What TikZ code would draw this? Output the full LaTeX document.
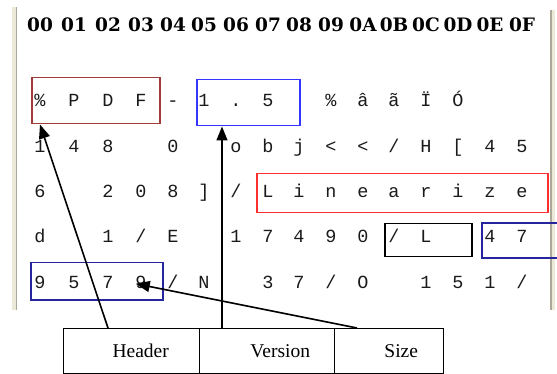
\documentclass[tikz,border=0pt]{standalone}
\usepackage{fontspec}
\setmainfont{Liberation Serif}
\newfontfamily\hexfont{Liberation Mono}
\newfontfamily\headfont{DejaVu Serif}
\usetikzlibrary{arrows.meta,calc}

\definecolor{panelbar}{HTML}{ECE9D8}
\definecolor{panelshade}{HTML}{ACA899}
\definecolor{brickred}{HTML}{A33B3B}
\definecolor{brightblue}{HTML}{3535FF}
\definecolor{brightred}{HTML}{FF2E2E}
\definecolor{navyblue}{HTML}{25259E}
\definecolor{glyph}{HTML}{1A1A1A}

% x positions of the sixteen byte columns
\def\colpos{{40,74,108,141,173,204,236,268,299,331,363,394,426,458,490,522}}

\begin{document}
\begin{tikzpicture}[x=1pt,y=-1pt,
  hexchar/.style={anchor=base, inner sep=0pt, text=glyph,
    font=\hexfont\fontsize{18.5}{18.5}\selectfont},
  offsetlabel/.style={anchor=base, inner sep=0pt,
    font=\headfont\bfseries\fontsize{18.5}{18.5}\selectfont},
  markbox/.style={draw=#1, line width=1.5pt, inner sep=0pt, anchor=north west},
  fieldbox/.style={draw, line width=1.4pt, minimum height=45pt, inner sep=0pt,
    anchor=north west, font=\fontsize{19.5}{19.5}\selectfont},
  pointer/.style={line width=1.6pt, -{Triangle[length=14pt,width=11pt]}}
]
\useasboundingbox (0,0) rectangle (557,374);

% window frame edges of the hex viewer
\fill[panelbar] (12,7) rectangle (15.5,310);
\fill[panelshade] (15.5,7) rectangle (17,310);
\fill[panelshade] (550,10) rectangle (551.5,310);
\fill[panelbar] (551.5,10) rectangle (555,310);

% column offsets
\foreach \lab [count=\i from 0] in {00,01,02,03,04,05,06,07,08,09,0A,0B,0C,0D,0E,0F}{
  \pgfmathsetmacro\xx{\colpos[\i]}
  \node[offsetlabel] (off\i) at (\xx,32) {\lab};
}

% file bytes, one row of sixteen characters at a time
\foreach \ch [count=\i from 0] in {\%,P,D,F,-,1,.,5,{},\%,â,ã,Ï,Ó,{},{}}{
  \pgfmathsetmacro\xx{\colpos[\i]}
  \node[hexchar] (ra\i) at (\xx,107) {\ch};
}
\foreach \ch [count=\i from 0] in {1,4,8,{},0,{},o,b,j,<,<,/,H,{[},4,5}{
  \pgfmathsetmacro\xx{\colpos[\i]}
  \node[hexchar] (rb\i) at (\xx,152.5) {\ch};
}
\foreach \ch [count=\i from 0] in {6,{},2,0,8,{]},/,L,i,n,e,a,r,i,z,e}{
  \pgfmathsetmacro\xx{\colpos[\i]}
  \node[hexchar] (rc\i) at (\xx,198) {\ch};
}
\foreach \ch [count=\i from 0] in {d,{},1,/,E,{},1,7,4,9,0,/,L,{},4,7}{
  \pgfmathsetmacro\xx{\colpos[\i]}
  \node[hexchar] (rd\i) at (\xx,243) {\ch};
}
\foreach \ch [count=\i from 0] in {9,5,7,9,/,N,{},3,7,/,O,{},1,5,1,/}{
  \pgfmathsetmacro\xx{\colpos[\i]}
  \node[hexchar] (re\i) at (\xx,288) {\ch};
}

% highlighted byte ranges
\node[markbox=brickred, minimum width=128pt, minimum height=46pt] (pdfbox) at (31,77) {};
\node[markbox=brightblue, minimum width=103pt, minimum height=46pt] (vbox) at (196,79) {};
\node[markbox=brightred, minimum width=291pt, minimum height=39pt] (linbox) at (256,173) {};
\node[markbox=black, minimum width=87pt, minimum height=33pt] (lbox) at (384,223) {};
\node[markbox=navyblue, minimum width=132pt, minimum height=37pt] (lenbox) at (30,262) {};
\draw[navyblue, line width=1.5pt] (560,223) -| (482,258) -- (560,258);

% field legend
\node[fieldbox, minimum width=136pt] (hdr) at (63,328) {\hspace*{18pt}Header};
\node[fieldbox, minimum width=135pt] (ver) at (199,328) {\hspace*{26pt}Version};
\node[fieldbox, minimum width=109pt] (size) at (334,328) {\hspace*{24pt}Size};

% pointers from the legend to the bytes
\draw[pointer] ([xshift=45pt]hdr.north west) -- ([xshift=9pt]pdfbox.south west);
\draw[pointer] ([xshift=23pt]ver.north west) -- ([xshift=23pt]ver.north west |- vbox.south);
\draw[pointer] ([xshift=23pt]size.north west) -- ([xshift=39pt,yshift=-2.5pt]lenbox.center);
\end{tikzpicture}
\end{document}
